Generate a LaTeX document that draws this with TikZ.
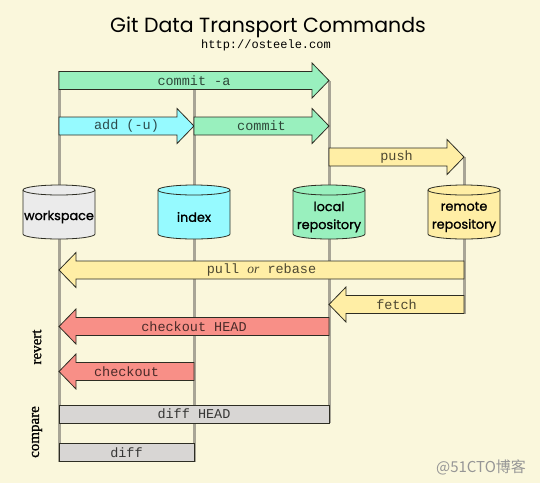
\documentclass[tikz,border=0pt]{standalone}
\usepackage{fontspec}
\setmainfont{Liberation Serif}
\newfontfamily\titlefont{Poppins}
\newfontfamily\cylfont{Poppins}[FakeBold=1.2]
\newfontfamily\sidefont{Liberation Serif}[FakeBold=1.2]
\newfontfamily\monofont{Liberation Mono}
\newfontfamily\cjkfont{Noto Sans CJK SC}
\definecolor{bgcream}{RGB}{250,247,220}
\definecolor{cgreen}{RGB}{153,240,190}
\definecolor{ccyan}{RGB}{150,250,255}
\definecolor{cyellow}{RGB}{255,238,165}
\definecolor{cred}{RGB}{248,143,135}
\definecolor{cgray}{RGB}{216,214,212}
\definecolor{cws}{RGB}{235,235,235}
\definecolor{linegray}{RGB}{168,165,150}
\definecolor{outline}{RGB}{45,45,35}
\tikzset{
  colline/.style={draw=linegray, line width=3pt},
  bigshape/.style={draw=outline, line width=0.8pt, line join=miter},
  lbl/.style={font=\monofont\fontsize{13.5}{16}\selectfont, inner sep=0pt},
  cyllbl/.style={font=\cylfont\fontsize{12.8}{18}\selectfont, align=center, inner sep=0pt},
  sidelbl/.style={font=\sidefont\fontsize{15}{18}\selectfont, rotate=90, inner sep=0pt},
}
% right-pointing big arrow: name, x tail, x tip, y, colour, label
\newcommand\rightbig[6]{%
  \filldraw[bigshape, fill=#5] ({#2},{#4-9}) -- ({#3-17},{#4-9}) -- ({#3-17},{#4-17.5})
    -- ({#3},{#4}) -- ({#3-17},{#4+17.5}) -- ({#3-17},{#4+9}) -- ({#2},{#4+9}) -- cycle;
  \node[lbl, text=#5!30!black] (#1) at ({(#2+#3)/2},{#4}) {#6};
}
% left-pointing big arrow: name, x tail, x tip, y, colour, label
\newcommand\leftbig[6]{%
  \filldraw[bigshape, fill=#5] ({#2},{#4-9}) -- ({#3+17},{#4-9}) -- ({#3+17},{#4-17.5})
    -- ({#3},{#4}) -- ({#3+17},{#4+17.5}) -- ({#3+17},{#4+9}) -- ({#2},{#4+9}) -- cycle;
  \node[lbl, text=#5!30!black] (#1) at ({(#2+#3)/2},{#4}) {#6};
}
% bar: name, x left, x right, y top, y bottom, colour, label
\newcommand\barbig[7]{%
  \filldraw[bigshape, fill=#6] ({#2},{#4}) rectangle ({#3},{#5});
  \node[lbl, text=#6!25!black] (#1) at ({(#2+#3)/2},{(#4+#5)/2}) {#7};
}
% cylinder: name, x centre, colour, label
\newcommand\cylbig[4]{%
  \filldraw[bigshape, fill=#3] ({#2-36},190) -- ({#2-36},234)
    arc[start angle=180, end angle=360, x radius=36pt, y radius=5pt]
    -- ({#2+36},190) arc[start angle=0, end angle=180, x radius=36pt, y radius=5pt] -- cycle;
  \draw[bigshape] ({#2-36},190) arc[start angle=180, end angle=360, x radius=36pt, y radius=5pt];
  \node[cyllbl] (#1) at ({#2},217) {#4};
}
\begin{document}
\begin{tikzpicture}[x=1pt, y=-1pt]
  \fill[bgcream] (0,0) rectangle (540,483);
  \useasboundingbox (0,0) rectangle (540,483);

  \node[font=\titlefont\fontsize{20.5}{24}\selectfont, anchor=base, inner sep=0pt] (title) at (268,32) {Git Data Transport Commands};
  \node[font=\monofont\fontsize{12}{13}\selectfont, anchor=base, inner sep=0pt] (url) at (266,48.5) {http://osteele.com};

  % column lines
  \coordinate (wstop) at (59,71);   \coordinate (wsbot) at (59,461.5);
  \coordinate (ixtop) at (194,81);  \coordinate (ixbot) at (194,461.5);
  \coordinate (lotop) at (329,81);  \coordinate (lobot) at (329,423);
  \coordinate (retop) at (464,157); \coordinate (rebot) at (464,313.5);
  \draw[colline] (wstop) -- (wsbot);
  \draw[colline] (ixtop) -- (ixbot);
  \draw[colline] (lotop) -- (lobot);
  \draw[colline] (retop) -- (rebot);

  \rightbig{commita}{59}{329}{80.5}{cgreen}{commit -a}
  \rightbig{add}{59}{194}{126}{ccyan}{add (-u)}
  \rightbig{commit}{194}{329}{126}{cgreen}{commit}
  \rightbig{push}{329}{464}{157}{cyellow}{push}

  \cylbig{workspace}{59}{cws}{workspace}
  \cylbig{index}{194}{ccyan}{index}
  \cylbig{local}{329}{cgreen}{local\\repository}
  \cylbig{remote}{464}{cyellow}{remote\\repository}

  \leftbig{pull}{464}{59}{270}{cyellow}{pull {\rmfamily\itshape or} rebase}
  \leftbig{fetch}{464}{329}{304.5}{cyellow}{fetch}
  \leftbig{checkouthead}{329}{59}{326.5}{cred}{checkout HEAD}
  \leftbig{checkout}{194}{59}{371.5}{cred}{checkout}
  \barbig{diffhead}{59}{329}{405}{423}{cgray}{diff HEAD}
  \barbig{diff}{59}{194}{443}{461.5}{cgray}{diff}

  \node[sidelbl] (revert) at (37,347) {revert};
  \node[sidelbl] (compare) at (37,432) {compare};

  \node[font=\cjkfont\fontsize{15}{18}\selectfont, text={rgb,255:red,150;green,150;blue,150}, inner sep=0pt] (wm) at (481,467) {@51CTO博客};
\end{tikzpicture}
\end{document}
